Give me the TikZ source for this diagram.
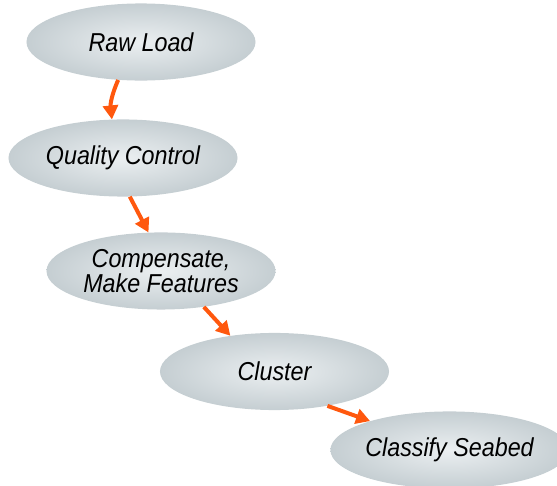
\documentclass[tikz,border=0pt]{standalone}
\usepackage{fontspec}
\setmainfont{Liberation Sans}[FakeStretch=0.9]
\usepackage{xcolor}
\usepackage{tikz}
\usetikzlibrary{positioning,arrows.meta,shapes.geometric}
\definecolor{stepinner}{RGB}{235,239,241}
\definecolor{stepouter}{RGB}{197,206,210}
\definecolor{flowcolor}{RGB}{255,88,14}

\begin{document}
\begin{tikzpicture}[
  stage/.style={ellipse, inner sep=0pt, minimum width=8.08cm, minimum height=2.72cm,
    shading=radial, inner color=stepinner, outer color=stepouter,
    font=\fontsize{26}{25}\selectfont\itshape, align=center},
  flow/.style={draw=flowcolor, line width=4bp, -{Triangle[length=14bp,width=15bp]}, color=flowcolor}
]
  \useasboundingbox (0,0) rectangle (19.65,17.145);

  % Stages
  \node[stage] (rawload) at (4.974,15.663) {Raw Load};
  \node[stage] (quality) at (4.339,11.571) {Quality Control};
  \node[stage] (compensate) at (5.680,7.585) {Compensate,\\Make Features};
  \node[stage] (cluster) at (9.684,4.039) {Cluster};
  \node[stage] (classify) at (15.858,1.270) {Classify Seabed};

  % Arrows
  \draw[flow] (rawload.239) to[bend right=15] (quality.106);
  \draw[flow] (quality.280) -- (compensate.108);
  \draw[flow] (compensate.320) -- (cluster.141);
  \draw[flow] (cluster.327) -- (classify.160);

\end{tikzpicture}
\end{document}
